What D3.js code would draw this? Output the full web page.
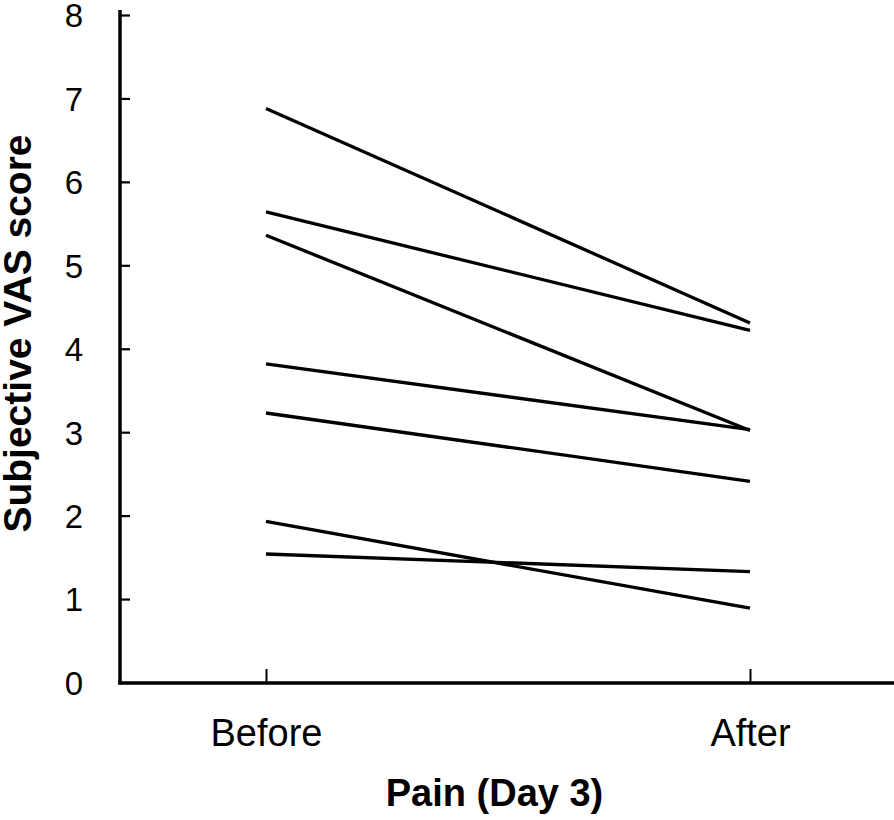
<!DOCTYPE html>
<html>
<head>
<meta charset="utf-8">
<script src="https://cdn.jsdelivr.net/npm/d3@7"></script>
<style>
  html, body { margin: 0; padding: 0; background: #fff; }
  svg { display: block; }
  text { font-family: "Liberation Sans", Arial, sans-serif; fill: #000; }
</style>
</head>
<body>
<svg id="chart" width="894" height="820"></svg>
<script>
// Data
const categories = ["Before", "After"];
const beforeValues = [6.88, 5.64, 5.36, 3.82, 3.23, 1.93, 1.54];
const afterValues  = [4.31, 4.22, 3.02, 3.03, 2.41, 0.89, 1.33];
const yTicks = [0, 1, 2, 3, 4, 5, 6, 7, 8];
const yTitle = "Subjective VAS score";
const xTitle = "Pain (Day 3)";

const svg = d3.select("#chart");

const x = d3.scalePoint().domain(categories).range([266, 750]);
const y = d3.scaleLinear().domain([0, 8]).range([682.5, 15]);

// Y axis
const yAxis = d3.axisLeft(y).tickValues(yTicks).tickFormat(d3.format("d"))
  .tickSize(-10).tickPadding(37);
const gy = svg.append("g").attr("transform", "translate(120,0)").call(yAxis);
gy.select(".domain").remove();
gy.selectAll(".tick line").attr("stroke", "#000").attr("stroke-width", 2.2);
gy.selectAll(".tick text").attr("font-size", 33).attr("dy", "0.36em")
  .style("font-family", "'Liberation Sans', Arial, sans-serif");

// X axis
const xAxis = d3.axisBottom(x).tickSize(-14).tickPadding(0);
const gx = svg.append("g").attr("transform", "translate(0,683)").call(xAxis);
gx.select(".domain").remove();
gx.selectAll(".tick line").attr("stroke", "#000").attr("stroke-width", 2);
gx.selectAll(".tick text").attr("font-size", 38).attr("y", 63).attr("dy", 0)
  .style("font-family", "'Liberation Sans', Arial, sans-serif");

// Axis lines
svg.append("line").attr("x1", 120).attr("x2", 120).attr("y1", 10).attr("y2", 684.5)
  .attr("stroke", "#000").attr("stroke-width", 3.5);
svg.append("line").attr("x1", 118.25).attr("x2", 894).attr("y1", 683).attr("y2", 683)
  .attr("stroke", "#000").attr("stroke-width", 3.5);

// Lines
const pairs = beforeValues.map((b, i) => [b, afterValues[i]]);
const line = d3.line().x((d, i) => x(categories[i])).y(d => y(d));
svg.append("g").selectAll("path").data(pairs).join("path")
  .attr("d", line)
  .attr("fill", "none")
  .attr("stroke", "#000")
  .attr("stroke-width", 3.3);

// Titles
svg.append("text").attr("x", 494.5).attr("y", 806)
  .attr("text-anchor", "middle").attr("font-size", 38).attr("font-weight", "bold")
  .text(xTitle);
svg.append("text").attr("transform", "translate(31,333.5) rotate(-90)")
  .attr("text-anchor", "middle").attr("font-size", 39).attr("font-weight", "bold")
  .text(yTitle);
</script>
</body>
</html>
